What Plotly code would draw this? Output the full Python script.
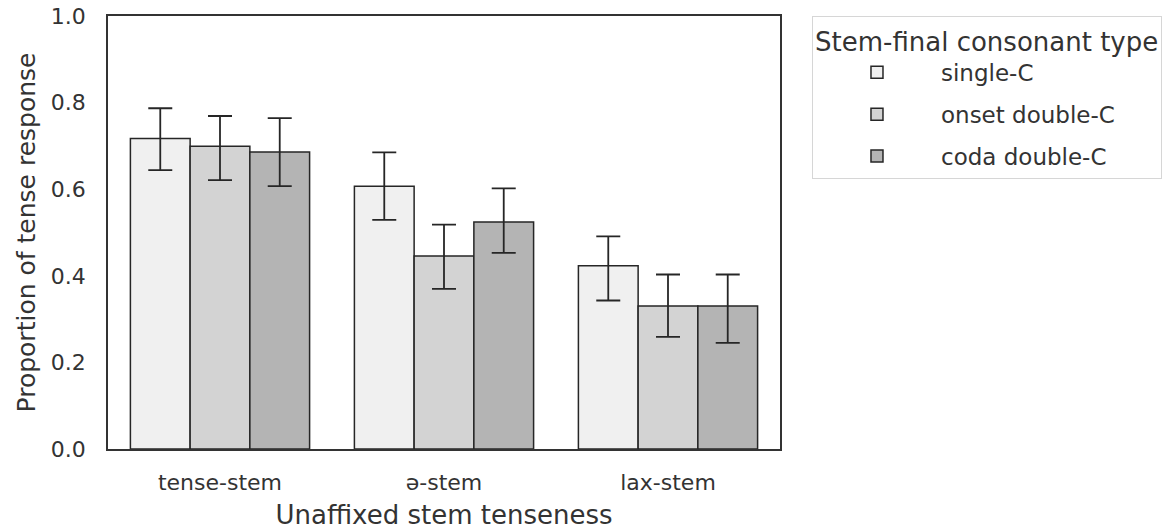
import plotly.graph_objects as go

categories = ["tense-stem", "ə-stem", "lax-stem"]
series_names = ["single-C", "onset double-C", "coda double-C"]
means = {
    "single-C": [0.717, 0.607, 0.423],
    "onset double-C": [0.699, 0.446, 0.330],
    "coda double-C": [0.686, 0.524, 0.330],
}
upper = {
    "single-C": [0.787, 0.685, 0.491],
    "onset double-C": [0.769, 0.518, 0.403],
    "coda double-C": [0.764, 0.602, 0.403],
}
lower = {
    "single-C": [0.644, 0.529, 0.343],
    "onset double-C": [0.621, 0.370, 0.259],
    "coda double-C": [0.607, 0.453, 0.245],
}
colors = ["#f0f0f0", "#d3d3d3", "#b4b4b4"]

FONT = "DejaVu Sans, Liberation Sans, Arial, sans-serif"
TXT = "#333333"
fig = go.Figure()
for name, col in zip(series_names, colors):
    m = means[name]
    fig.add_trace(go.Bar(
        x=categories, y=m, name=name, legendgroup=name,
        marker=dict(color=col, line=dict(color="#262626", width=1.5)),
        error_y=dict(type="data", symmetric=False,
                     array=[u - v for u, v in zip(upper[name], m)],
                     arrayminus=[v - l for v, l in zip(m, lower[name])],
                     color="#262626", thickness=1.8, width=12),
    ))

fig.update_layout(
    width=1175, height=531,
    margin=dict(l=108, r=395, t=16, b=82, autoexpand=False),
    paper_bgcolor="white", plot_bgcolor="white",
    barmode="group", bargap=0.2, bargroupgap=0,
    font=dict(family=FONT, color=TXT, size=22),
    legend=dict(
        x=1.0476, y=1.0, xanchor="left", yanchor="top",
        bordercolor="#d6d6d6", borderwidth=1, bgcolor="white",
        font=dict(size=23, color=TXT),
        title=dict(text="Stem-final consonant type", font=dict(size=26, color=TXT)),
        tracegroupgap=9, itemwidth=118,
    ),
    showlegend=True,
)
fig.update_xaxes(
    showline=True, linecolor="#333333", linewidth=1.5, mirror=True,
    showgrid=False, ticks="", ticklabelstandoff=13,
    tickfont=dict(size=22, color=TXT),
    title=dict(text="Unaffixed stem tenseness", font=dict(size=26, color=TXT), standoff=12),
)
fig.update_yaxes(
    range=[0, 1.0], tickvals=[0, 0.2, 0.4, 0.6, 0.8, 1.0], tickformat=".1f",
    showline=True, linecolor="#333333", linewidth=1.5, mirror=True,
    showgrid=False, zeroline=False, ticks="", ticklabelstandoff=16,
    tickfont=dict(size=22, color=TXT),
    title=dict(text="Proportion of tense response", font=dict(size=25, color=TXT), standoff=8),
)
fig.write_html("out.html")
